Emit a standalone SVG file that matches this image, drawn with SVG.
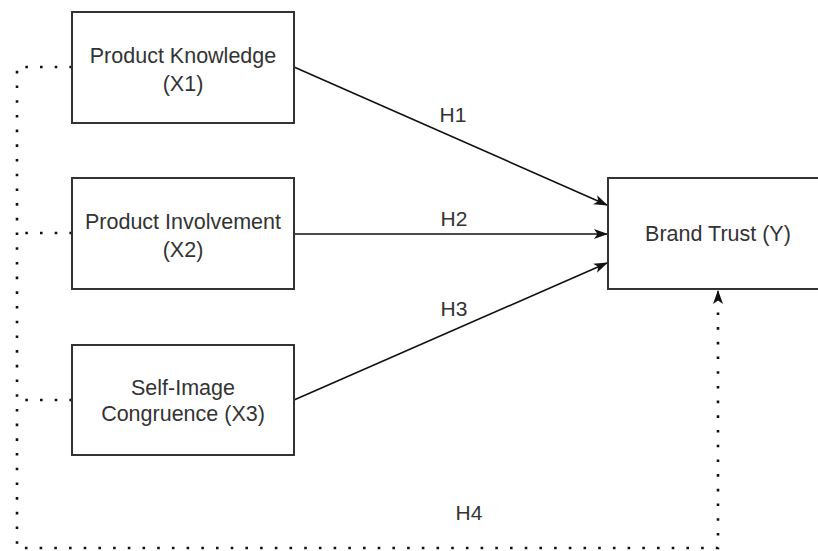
<svg xmlns="http://www.w3.org/2000/svg" width="818" height="551" viewBox="0 0 818 551">
<style>
.box{fill:#fff;stroke:#333;stroke-width:2}
.t{font-family:"Liberation Sans",Arial,sans-serif;font-size:21.5px;fill:#333;text-anchor:middle}
.lbl{font-family:"Liberation Sans",Arial,sans-serif;font-size:21px;fill:#333;text-anchor:middle}
.ln{fill:none;stroke:#111;stroke-width:1.6}
.dot{fill:none;stroke:#111;stroke-width:2.6;stroke-dasharray:2.6 12.1}
</style>
<defs>
<marker id="arr" viewBox="0 0 14 10" refX="13" refY="5" markerWidth="14" markerHeight="10" markerUnits="userSpaceOnUse" orient="auto">
<path d="M0,0 L14,5 L0,10 L3.5,5 Z" fill="#111"/>
</marker>
</defs>
<rect width="818" height="551" fill="#fff"/>
<g id="connectors">
<path class="ln" d="M294,67 L607,205" marker-end="url(#arr)"/>
<path class="ln" d="M294,234 L607,234" marker-end="url(#arr)"/>
<path class="ln" d="M294,400 L607,263" marker-end="url(#arr)"/>
<path class="dot" d="M72,67 H17 V548 H718 V300"/>
<path class="dot" d="M72,233 H17"/>
<path class="dot" d="M72,400 H17"/>
<path class="ln" d="M718,300 V291" marker-end="url(#arr)"/>
<text class="lbl" x="453" y="122">H1</text>
<text class="lbl" x="454" y="226">H2</text>
<text class="lbl" x="454" y="316">H3</text>
<text class="lbl" x="469" y="520">H4</text>
</g>
<g id="x1">
<rect class="box" x="72" y="12" width="222" height="111"/>
<text class="t" x="183" y="63">Product Knowledge</text>
<text class="t" x="183" y="91">(X1)</text>
</g>
<g id="x2">
<rect class="box" x="72" y="178" width="222" height="111"/>
<text class="t" x="183" y="228.5">Product Involvement</text>
<text class="t" x="183" y="257">(X2)</text>
</g>
<g id="x3">
<rect class="box" x="72" y="345" width="222" height="110"/>
<text class="t" x="183" y="395">Self-Image</text>
<text class="t" x="183" y="421">Congruence (X3)</text>
</g>
<g id="y">
<rect class="box" x="608" y="178" width="222" height="111"/>
<text class="t" x="718" y="241">Brand Trust (Y)</text>
</g>
</svg>
